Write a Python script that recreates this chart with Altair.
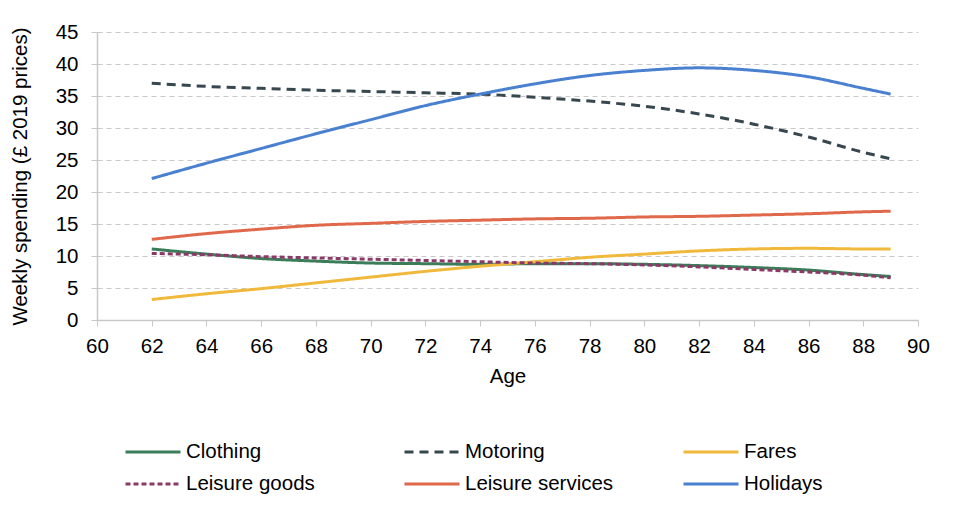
import altair as alt
import pandas as pd

ages = [62, 64, 66, 68, 70, 72, 74, 76, 78, 80, 82, 84, 86, 88, 89]
series_names = ["Clothing", "Motoring", "Fares", "Leisure goods", "Leisure services", "Holidays"]
clothing = [11.1, 10.3, 9.6, 9.2, 8.9, 8.8, 8.7, 8.8, 8.8, 8.7, 8.5, 8.2, 7.8, 7.1, 6.8]
motoring = [37.0, 36.5, 36.2, 35.9, 35.7, 35.5, 35.3, 34.8, 34.2, 33.4, 32.2, 30.6, 28.6, 26.2, 25.2]
fares = [3.2, 4.1, 4.9, 5.8, 6.7, 7.6, 8.4, 9.1, 9.8, 10.3, 10.8, 11.1, 11.2, 11.1, 11.1]
leisure_goods = [10.4, 10.2, 9.9, 9.7, 9.5, 9.3, 9.1, 8.9, 8.8, 8.6, 8.3, 7.9, 7.5, 7.0, 6.6]
leisure_services = [12.6, 13.5, 14.2, 14.8, 15.1, 15.4, 15.6, 15.8, 15.9, 16.1, 16.2, 16.4, 16.6, 16.9, 17.0]
holidays = [22.1, 24.5, 26.8, 29.1, 31.3, 33.5, 35.3, 36.9, 38.2, 39.0, 39.4, 39.0, 38.0, 36.2, 35.3]

colors = ["#3b7d59", "#37474f", "#f0b93b", "#8b3a67", "#e0684b", "#4a80d0"]
dashes = [[1, 0], [9, 6], [1, 0], [5, 3], [1, 0], [1, 0]]

# legend fills column by column (2 rows), so order entries to read row-wise like the reference
legend_order = ["Clothing", "Leisure goods", "Motoring", "Leisure services", "Fares", "Holidays"]
color_range = [colors[series_names.index(n)] for n in legend_order]
dash_range = [dashes[series_names.index(n)] for n in legend_order]

values = [clothing, motoring, fares, leisure_goods, leisure_services, holidays]
rows = []
for name, vals in zip(series_names, values):
    for a, v in zip(ages, vals):
        rows.append({"Age": a, "Spending": v, "Series": name})
df = pd.DataFrame(rows)

FONT = "Liberation Sans"
FS = 20.5

chart = alt.Chart(df).mark_line(strokeWidth=3, interpolate="monotone").encode(
    x=alt.X("Age:Q", scale=alt.Scale(domain=[60, 90], nice=False),
            axis=alt.Axis(values=list(range(60, 91, 2)), title="Age", grid=False,
                          tickSize=6, labelPadding=10, titlePadding=10, labelFlush=False)),
    y=alt.Y("Spending:Q", scale=alt.Scale(domain=[0, 45], nice=False),
            axis=alt.Axis(values=list(range(0, 46, 5)), title="Weekly spending (£ 2019 prices)",
                          grid=True, gridDash=[5, 4], gridColor="#c8c8c8", tickSize=6,
                          labelPadding=13, titlePadding=25, labelFlush=False)),
    color=alt.Color("Series:N", scale=alt.Scale(domain=legend_order, range=color_range),
                    sort=legend_order, legend=alt.Legend(title=None)),
    strokeDash=alt.StrokeDash("Series:N", scale=alt.Scale(domain=legend_order, range=dash_range),
                              sort=legend_order, legend=alt.Legend(title=None)),
    detail="Series:N",
).properties(
    width=821, height=288,
    padding={"left": 89, "top": 24, "right": 30, "bottom": 185},
    autosize=alt.AutoSizeParams(type="none"),
).configure_view(
    stroke=None
).configure_axis(
    labelFont=FONT, titleFont=FONT, labelFontSize=FS, titleFontSize=FS,
    labelColor="#000000", titleColor="#000000", titleFontWeight="normal",
    domainColor="#c8c8c8", tickColor="#c8c8c8", domainWidth=1.5,
).configure_legend(
    orient="none", legendX=27, legendY=408, columns=3, columnPadding=68,
    gridAlign="all", clipHeight=24,
    rowPadding=8, symbolType="stroke", symbolSize=55 * 55, symbolStrokeWidth=3,
    labelFont=FONT, labelFontSize=FS, labelColor="#000000", labelOffset=4,
    labelLimit=300,
)

chart.save("out.html", embed_options={"renderer": "svg", "actions": False})
